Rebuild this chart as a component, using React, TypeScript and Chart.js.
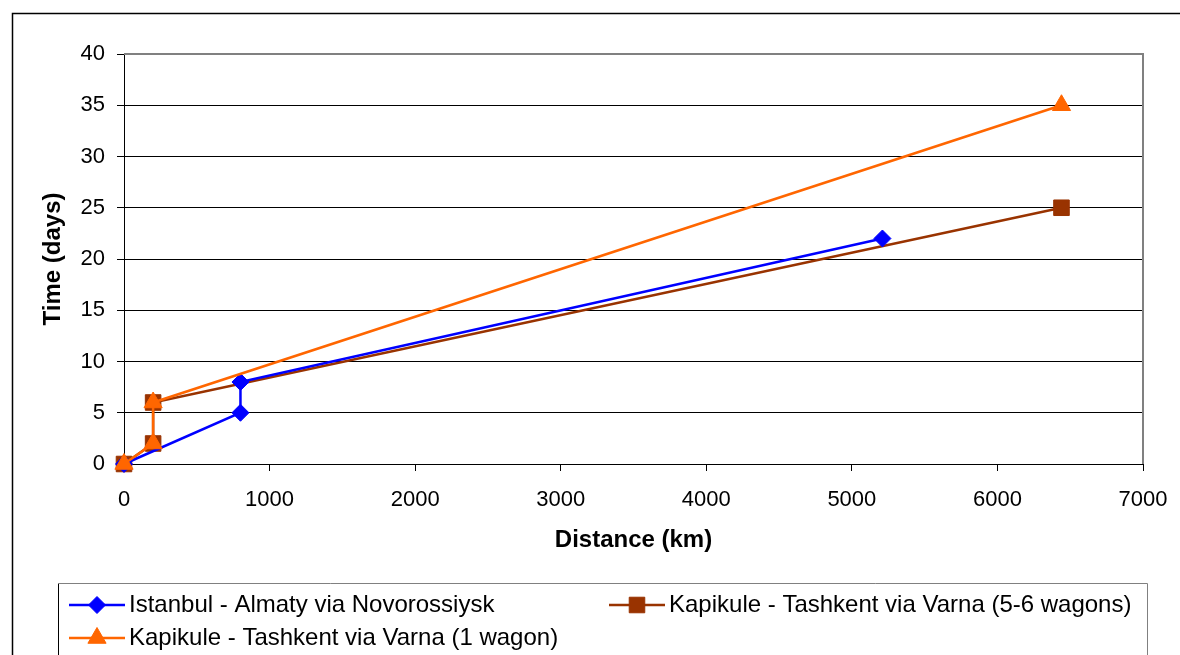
import { useEffect, useRef } from 'react';
import { Chart, registerables } from 'chart.js';

Chart.register(...registerables);

const seriesNames = [
  'Istanbul - Almaty via Novorossiysk',
  'Kapikule - Tashkent via Varna (5-6 wagons)',
  'Kapikule - Tashkent via Varna (1 wagon)',
];
const almatyDistance = [0, 800, 800, 5210];
const almatyTime = [0, 5, 8, 22];
const tashkentMultiDistance = [0, 200, 200, 6440];
const tashkentMultiTime = [0, 2, 6, 25];
const tashkentSingleDistance = [0, 200, 200, 6440];
const tashkentSingleTime = [0, 2, 6, 35];
const xTickValues = [0, 1000, 2000, 3000, 4000, 5000, 6000, 7000];
const yTickValues = [0, 5, 10, 15, 20, 25, 30, 35, 40];
const xTitle = 'Distance (km)';
const yTitle = 'Time (days)';

const colors = ['#0000FF', '#993300', '#FF6600'];
const markers = ['rectRot', 'rect', 'triangle'];
const markerRadius = [8.5, 11, 10.5];
const FONT = '"Liberation Sans", Arial, sans-serif';

const toPoints = (xs: number[], ys: number[]) => xs.map((x, i) => ({ x, y: ys[i] }));

function drawMarker(ctx: CanvasRenderingContext2D, style: string, r: number, x: number, y: number) {
  ctx.beginPath();
  if (style === 'rectRot') {
    ctx.moveTo(x - r, y);
    ctx.lineTo(x, y - r);
    ctx.lineTo(x + r, y);
    ctx.lineTo(x, y + r);
  } else if (style === 'rect') {
    const s = Math.SQRT1_2 * r;
    ctx.rect(x - s, y - s, 2 * s, 2 * s);
  } else {
    ctx.moveTo(x, y - r);
    ctx.lineTo(x + Math.sin((2 * Math.PI) / 3) * r, y + r / 2);
    ctx.lineTo(x - Math.sin((2 * Math.PI) / 3) * r, y + r / 2);
  }
  ctx.closePath();
  ctx.fill();
  ctx.stroke();
}

const frame = {
  id: 'frame',
  beforeDraw(chart: any) {
    const { ctx, width, height } = chart;
    ctx.save();
    ctx.fillStyle = '#fff';
    ctx.fillRect(0, 0, width, height);
    ctx.strokeStyle = '#000';
    ctx.lineWidth = 1.5;
    ctx.beginPath();
    ctx.moveTo(12.5, height + 5);
    ctx.lineTo(12.5, 13.5);
    ctx.lineTo(width + 5, 13.5);
    ctx.stroke();
    ctx.restore();
  },
  beforeDatasetsDraw(chart: any) {
    const { ctx, chartArea } = chart;
    ctx.save();
    ctx.strokeStyle = '#808080';
    ctx.lineWidth = 2;
    ctx.beginPath();
    ctx.moveTo(chartArea.left, chartArea.top);
    ctx.lineTo(chartArea.right, chartArea.top);
    ctx.lineTo(chartArea.right, chartArea.bottom);
    ctx.stroke();
    ctx.restore();
  },
  afterDraw(chart: any) {
    const { ctx } = chart;
    ctx.save();
    ctx.strokeStyle = '#000';
    ctx.lineWidth = 1;
    ctx.beginPath();
    ctx.moveTo(58.5, 700);
    ctx.lineTo(58.5, 583.5);
    ctx.stroke();
    ctx.strokeStyle = '#808080';
    ctx.beginPath();
    ctx.moveTo(58.5, 583.5);
    ctx.lineTo(1147.5, 583.5);
    ctx.lineTo(1147.5, 700);
    ctx.stroke();

    const items = [
      { x: 69, y: 605 },
      { x: 609, y: 605 },
      { x: 69, y: 638 },
    ];
    items.forEach((it, i) => {
      const ds = chart.data.datasets[i];
      ctx.strokeStyle = colors[i];
      ctx.lineWidth = 2.5;
      ctx.beginPath();
      ctx.moveTo(it.x, it.y);
      ctx.lineTo(it.x + 56, it.y);
      ctx.stroke();
      ctx.fillStyle = colors[i];
      ctx.lineWidth = 1;
      drawMarker(ctx, markers[i], markerRadius[i], it.x + 28, it.y);
      ctx.fillStyle = '#000';
      ctx.font = `24px ${FONT}`;
      ctx.textAlign = 'left';
      ctx.textBaseline = 'middle';
      ctx.fillText(ds.label, it.x + 60, it.y);
    });
    ctx.restore();
  },
};

export default function App() {
  const ref = useRef<HTMLCanvasElement>(null);
  useEffect(() => {
    if (!ref.current) return;
    const datasets = [
      { label: seriesNames[0], data: toPoints(almatyDistance, almatyTime), order: 1 },
      { label: seriesNames[1], data: toPoints(tashkentMultiDistance, tashkentMultiTime), order: 2 },
      { label: seriesNames[2], data: toPoints(tashkentSingleDistance, tashkentSingleTime), order: 0 },
    ].map((d, i) => ({
      ...d,
      showLine: true,
      borderColor: colors[i],
      backgroundColor: colors[i],
      borderWidth: 2.5,
      pointStyle: markers[i],
      pointRadius: markerRadius[i],
      pointBackgroundColor: colors[i],
      pointBorderColor: colors[i],
      pointBorderWidth: 1,
      clip: false as any,
    }));
    const chart = new Chart(ref.current, {
      type: 'scatter',
      data: { datasets: datasets as any },
      options: {
        responsive: false,
        devicePixelRatio: 1,
        animation: false,
        events: [],
        layout: { padding: { left: 39, top: 54, right: 37, bottom: 100 } },
        plugins: { legend: { display: false }, tooltip: { enabled: false } },
        scales: {
          x: {
            type: 'linear',
            min: 0,
            max: 7000,
            afterBuildTicks: (s: any) => { s.ticks = xTickValues.map((v) => ({ value: v })); },
            afterFit: (s: any) => { s.height = 91; s.paddingLeft = 0; s.paddingRight = 0; },
            ticks: { color: '#000', font: { family: FONT, size: 22 }, padding: 16, maxRotation: 0, callback: (v: any) => String(v) },
            grid: { drawOnChartArea: false, drawTicks: true, tickLength: 7, tickColor: '#000', lineWidth: 1 },
            border: { color: '#000', width: 1 },
            title: { display: true, text: xTitle, color: '#000', font: { family: FONT, size: 24, weight: 'bold' }, padding: 0 },
          },
          y: {
            type: 'linear',
            min: 0,
            max: 40,
            afterBuildTicks: (s: any) => { s.ticks = yTickValues.map((v) => ({ value: v })); },
            afterFit: (s: any) => { s.width = 85; s.paddingTop = 0; s.paddingBottom = 0; },
            ticks: { color: '#000', font: { family: FONT, size: 22 }, padding: 12, callback: (v: any) => String(v) },
            grid: {
              color: (c: any) => (c.tick && c.tick.value === 40 ? 'rgba(0,0,0,0)' : '#000'),
              tickColor: '#000',
              tickLength: 7,
              lineWidth: 1,
            },
            border: { color: '#000', width: 1 },
            title: { display: true, text: yTitle, color: '#000', font: { family: FONT, size: 24, weight: 'bold' }, padding: 0 },
          },
        },
      },
      plugins: [frame],
    });
    return () => chart.destroy();
  }, []);
  return (
    <div style={{ position: 'fixed', left: 0, top: 0, width: 1180, height: 655, overflow: 'hidden', background: '#fff' }}>
      <canvas ref={ref} width={1180} height={655} style={{ display: 'block' }} />
    </div>
  );
}
